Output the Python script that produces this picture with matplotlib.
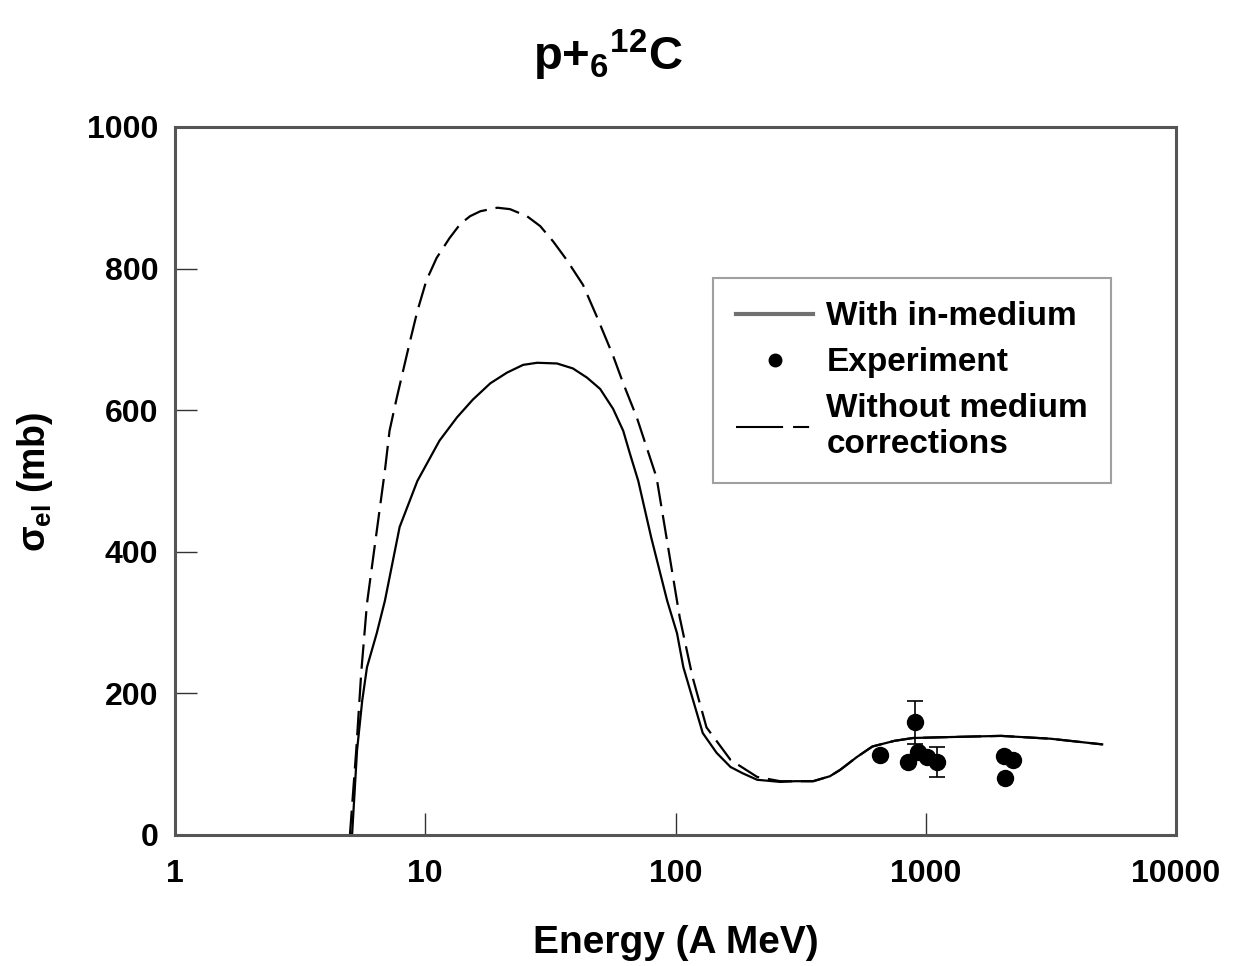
import matplotlib
matplotlib.use("Agg")
import matplotlib.pyplot as plt
from matplotlib.lines import Line2D

plt.rcParams['font.family'] = ['Liberation Sans', 'DejaVu Sans']
plt.rcParams['font.weight'] = 'bold'
plt.rcParams['mathtext.fontset'] = 'custom'
plt.rcParams['mathtext.rm'] = 'Liberation Sans:bold'
plt.rcParams['mathtext.bf'] = 'Liberation Sans:bold'
plt.rcParams['mathtext.it'] = 'Liberation Sans:bold'

# With in-medium corrections (solid)
E_with = [5.1, 5.34, 5.6, 5.85, 6.4, 6.9, 7.9, 9.3, 11.4, 13.4, 15.5, 18.2, 21.2, 24.6, 28,
          33.6, 38.9, 44.3, 50, 56.3, 61.8, 65.7, 71, 80, 92.6, 101.4, 107.5, 128.5, 146,
          166, 186, 212, 262, 300, 355, 414, 455, 530, 612, 750, 890, 1140, 1500, 2000,
          3150, 5070]
s_with = [0, 120, 190, 237, 285, 331, 435, 500, 557, 590, 615, 638, 653, 664, 667,
          666, 659, 646, 630, 602, 571, 539, 500, 420, 331, 285, 237, 144, 116,
          96, 87, 78, 75, 76, 76, 83, 92, 110, 125, 133, 137, 138, 139, 140,
          136, 128]

# Without medium corrections (dashed)
E_without = [5.0, 5.3, 5.55, 5.85, 6.9, 7.2, 7.7, 8.7, 9.3, 10.1, 11.1, 12.5, 13.8, 15.1,
             16.6, 19.4, 21.8, 25.5, 28.8, 32.5, 36.8, 42.7, 48.5, 56.3, 61.8, 70, 84,
             104, 117, 133, 166, 212, 262, 300, 355, 414, 455, 530, 612, 750, 890, 1140,
             1500, 2000, 3150, 5070]
s_without = [0, 120, 230, 327, 515, 571, 618, 698, 740, 783, 815, 843, 863, 874,
             881, 886, 884, 874, 860, 838, 812, 777, 732, 677, 638, 590, 505,
             307, 223, 152, 106, 82, 76, 76, 76, 83, 92, 110, 125, 133, 137, 138,
             139, 140, 136, 128]

# Experiment
E_exp = [656, 906, 849, 931, 1011, 1109, 2055, 2232, 2075]
s_exp = [113, 159, 103, 117, 110, 103, 112, 106, 80]
err_exp = [0, 30, 0, 0, 0, 21, 0, 0, 0]

x_ticks = [1, 10, 100, 1000, 10000]
x_labels = ['1', '10', '100', '1000', '10000']
y_ticks = [0, 200, 400, 600, 800, 1000]

fig = plt.figure(figsize=(12.42, 9.66), dpi=100)
ax = fig.add_axes([175/1242, 1-835/966, (1176-175)/1242, (835-127)/966])

ax.plot(E_with, s_with, color='black', lw=1.6, solid_joinstyle='round')
ax.plot(E_without, s_without, color='black', lw=1.6, dashes=(11, 4))
ax.errorbar(E_exp, s_exp, yerr=err_exp, fmt='o', color='black', ms=11.5,
            ecolor='black', elinewidth=1.2, capsize=6, capthick=1.2)

ax.set_xscale('log')
ax.set_xlim(1, 10000)
ax.set_ylim(0, 1000)
ax.set_xticks(x_ticks)
ax.set_xticklabels(x_labels)
ax.set_yticks(y_ticks)
ax.minorticks_off()
ax.tick_params(direction='in', length=16, width=1.0, color='#333333',
               labelsize=23, pad=12)
ax.tick_params(axis='x', pad=17)
for lab in ax.get_xticklabels() + ax.get_yticklabels():
    lab.set_fontweight('bold')
for sp in ax.spines.values():
    sp.set_color('#555555')
    sp.set_linewidth(2.2)

ax.set_xlabel('Energy (A MeV)', fontsize=28, fontweight='bold', labelpad=26)
fig.text(35/1242, 1-482/966, r'$\sigma_{\mathrm{el}}$ (mb)', rotation=90,
         fontsize=27, fontweight='bold', ha='center', va='center')

fig.text(608/1242, 1-55/966, r'p+$_{6}$$^{12}$C', fontsize=34,
         fontweight='bold', ha='center', va='center')

handles = [
    Line2D([], [], color='#707070', lw=3),
    Line2D([], [], color='black', marker='o', ls='none', ms=9),
    Line2D([], [], color='black', lw=1.5, dashes=(22.6, 4.8, 7.7, 40)),
]
labels = ['With in-medium', 'Experiment', 'Without medium\ncorrections']
leg = ax.legend(handles, labels, loc='upper left', bbox_to_anchor=(0.5375, 0.7867),
                borderaxespad=0, fontsize=24, frameon=True, fancybox=False,
                edgecolor='#888888', handlelength=2.3, handletextpad=0.4,
                borderpad=0.7, labelspacing=0.45)
leg.get_frame().set_linewidth(1.5)
for t in leg.get_texts():
    t.set_fontweight('bold')

fig.savefig('out.png', dpi=100)
